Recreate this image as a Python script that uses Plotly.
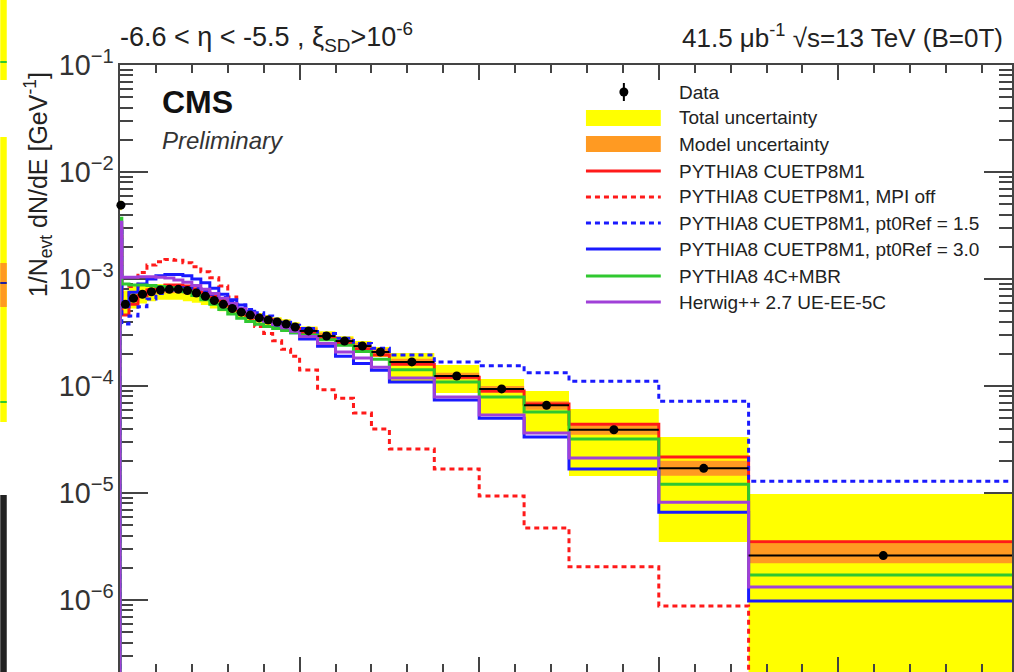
import plotly.graph_objects as go

# ---- binning (GeV) ----
edges = [0, 5, 25, 50, 75, 100, 125, 150, 175, 200, 225, 250, 275, 300, 325, 350,
         375, 400, 425, 450, 475, 500, 550, 600, 650, 700, 750, 875, 1000, 1125,
         1250, 1500, 1750, 2500]

# ---- measured spectrum ----
data = [4.9e-3, 5.8e-4, 6.6e-4, 7.2e-4, 7.6e-4, 7.9e-4, 8.0e-4, 8.0e-4, 7.8e-4,
        7.4e-4, 6.9e-4, 6.3e-4, 5.8e-4, 5.3e-4, 4.9e-4, 4.6e-4, 4.33e-4, 4.14e-4,
        3.96e-4, 3.79e-4, 3.56e-4, 3.27e-4, 2.93e-4, 2.63e-4, 2.36e-4, 2.08e-4,
        1.68e-4, 1.24e-4, 9.4e-5, 6.6e-5, 3.9e-5, 1.7e-5, 2.6e-6]

total_hi = [5.4e-3, 7.8e-4, 8.6e-4, 8.8e-4, 8.9e-4, 9.0e-4, 8.9e-4, 8.8e-4, 8.6e-4,
            8.2e-4, 7.6e-4, 6.9e-4, 6.4e-4, 5.8e-4, 5.4e-4, 5.1e-4, 4.8e-4, 4.6e-4,
            4.4e-4, 4.2e-4, 3.95e-4, 3.6e-4, 3.25e-4, 2.92e-4, 2.63e-4, 2.32e-4,
            2.03e-4, 1.57e-4, 1.16e-4, 8.97e-5, 6.1e-5, 3.33e-5, 9.8e-6]
total_lo = [4.4e-3, 4.6e-4, 5.3e-4, 5.9e-4, 6.2e-4, 6.4e-4, 6.4e-4, 6.4e-4, 6.2e-4,
            6.0e-4, 5.7e-4, 5.3e-4, 5.0e-4, 4.6e-4, 4.3e-4, 4.1e-4, 3.9e-4, 3.72e-4,
            3.56e-4, 3.41e-4, 3.2e-4, 2.94e-4, 2.64e-4, 2.37e-4, 2.12e-4, 1.87e-4,
            1.1e-4, 8.6e-5, 5.36e-5, 3.7e-5, 1.44e-5, 3.48e-6, 1e-8]

model_hi = [5.1e-3, 6.3e-4, 7.1e-4, 7.8e-4, 8.2e-4, 8.5e-4, 8.6e-4, 8.6e-4, 8.4e-4,
            8.0e-4, 7.4e-4, 6.8e-4, 6.25e-4, 5.7e-4, 5.3e-4, 4.95e-4, 4.66e-4, 4.45e-4,
            4.26e-4, 4.08e-4, 3.83e-4, 3.52e-4, 3.15e-4, 2.83e-4, 2.54e-4, 2.24e-4,
            1.8e-4, 1.33e-4, 1.0e-4, 7.2e-5, 4.3e-5, 2.0e-5, 3.4e-6]
model_lo = [4.7e-3, 5.35e-4, 6.1e-4, 6.65e-4, 7.0e-4, 7.3e-4, 7.4e-4, 7.4e-4, 7.2e-4,
            6.85e-4, 6.4e-4, 5.85e-4, 5.4e-4, 4.9e-4, 4.55e-4, 4.26e-4, 4.01e-4, 3.83e-4,
            3.67e-4, 3.51e-4, 3.3e-4, 3.03e-4, 2.71e-4, 2.44e-4, 2.19e-4, 1.93e-4,
            1.57e-4, 1.15e-4, 8.6e-5, 6.0e-5, 3.5e-5, 1.45e-5, 2.2e-6]

# ---- generator predictions ----
cuetp8m1 = [3.0e-3, 4.6e-4, 5.8e-4, 7.0e-4, 7.9e-4, 8.5e-4, 8.8e-4, 8.8e-4, 8.6e-4,
            8.1e-4, 7.5e-4, 6.9e-4, 6.3e-4, 5.7e-4, 5.2e-4, 4.8e-4, 4.45e-4, 4.15e-4,
            3.9e-4, 3.65e-4, 3.45e-4, 3.15e-4, 2.8e-4, 2.5e-4, 2.22e-4, 1.95e-4,
            1.6e-4, 1.21e-4, 9.0e-5, 6.8e-5, 4.4e-5, 2.17e-5, 3.5e-6]
mpi_off = [2.5e-3, 5.5e-4, 8.5e-4, 1.15e-3, 1.35e-3, 1.45e-3, 1.52e-3, 1.5e-3, 1.42e-3,
           1.3e-3, 1.17e-3, 1.03e-3, 8.6e-4, 6.8e-4, 5.2e-4, 4.3e-4, 3.6e-4, 3.1e-4,
           2.65e-4, 2.2e-4, 1.9e-4, 1.41e-4, 9.2e-5, 7.7e-5, 5.6e-5, 3.96e-5,
           2.58e-5, 1.68e-5, 9.4e-6, 4.7e-6, 2.04e-6, 8.8e-7, 1e-9]
pt0ref_15 = [2.9e-3, 3.8e-4, 4.5e-4, 5.5e-4, 6.5e-4, 7.3e-4, 7.9e-4, 8.2e-4, 8.3e-4,
             8.1e-4, 7.7e-4, 7.2e-4, 6.7e-4, 6.2e-4, 5.7e-4, 5.2e-4, 4.85e-4, 4.5e-4,
             4.2e-4, 3.95e-4, 3.7e-4, 3.45e-4, 3.1e-4, 2.8e-4, 2.5e-4, 2.25e-4,
             1.95e-4, 1.68e-4, 1.55e-4, 1.33e-4, 1.11e-4, 7.2e-5, 1.29e-5]
pt0ref_30 = [2.8e-3, 5.5e-4, 7.5e-4, 9.0e-4, 1.0e-3, 1.07e-3, 1.1e-3, 1.1e-3, 1.07e-3,
             1.0e-3, 9.2e-4, 8.2e-4, 7.2e-4, 6.4e-4, 5.7e-4, 5.0e-4, 4.5e-4, 4.05e-4,
             3.7e-4, 3.4e-4, 3.15e-4, 2.75e-4, 2.35e-4, 1.9e-4, 1.62e-4, 1.4e-4,
             1.09e-4, 7.4e-5, 5.0e-5, 3.34e-5, 1.68e-5, 6.6e-6, 9.8e-7]
p8_4c_mbr = [3.7e-3, 9.0e-4, 8.8e-4, 8.8e-4, 8.7e-4, 8.5e-4, 8.3e-4, 8.0e-4, 7.6e-4,
             7.0e-4, 6.4e-4, 5.8e-4, 5.2e-4, 4.7e-4, 4.3e-4, 4.0e-4, 3.77e-4, 3.6e-4,
             3.45e-4, 3.3e-4, 3.15e-4, 3.0e-4, 2.7e-4, 2.4e-4, 2.1e-4, 1.78e-4,
             1.42e-4, 1.09e-4, 7.9e-5, 5.7e-5, 3.2e-5, 1.21e-5, 1.71e-6]
herwig = [3.4e-3, 1.04e-3, 1.04e-3, 1.05e-3, 1.05e-3, 1.04e-3, 1.02e-3, 9.8e-4, 9.3e-4,
          8.7e-4, 8.0e-4, 7.3e-4, 6.6e-4, 5.9e-4, 5.3e-4, 4.8e-4, 4.4e-4, 4.05e-4,
          3.75e-4, 3.5e-4, 3.25e-4, 2.9e-4, 2.5e-4, 2.08e-4, 1.83e-4, 1.5e-4,
          1.19e-4, 7.9e-5, 5.36e-5, 3.63e-5, 2.12e-5, 8.2e-6, 1.32e-6]

legend_labels = ["Data", "Total uncertainty", "Model uncertainty",
                 "PYTHIA8 CUETP8M1", "PYTHIA8 CUETP8M1, MPI off",
                 "PYTHIA8 CUETP8M1, pt0Ref = 1.5", "PYTHIA8 CUETP8M1, pt0Ref = 3.0",
                 "PYTHIA8 4C+MBR", "Herwig++ 2.7 UE-EE-5C"]

# ---- styling ----
YELLOW = "#ffff00"
ORANGE = "#ff9a22"
RED = "#ff1a1a"
BLUE = "#1a1aff"
GREEN = "#30c830"
PURPLE = "#a040d8"
FRAME = "#444444"
FONT = "Liberation Sans, Arial, Helvetica, sans-serif"
DOTS = "5px,4px"
FLOOR = 1e-9

W, H = 1014, 672
L, T = 120, 65


def px(x):
    return (x - L) / (W - L)


def py(y):
    return (H - y) / (H - T)


centers = [(a + b) / 2 for a, b in zip(edges[:-1], edges[1:])]
half_w = [(b - a) / 2 for a, b in zip(edges[:-1], edges[1:])]


def step_xy(vals):
    xs = [edges[0]] + edges[:-1] + [edges[-1], edges[-1]]
    ys = [FLOOR] + list(vals) + [vals[-1], FLOOR]
    return xs, ys


def band_xy(lo, hi):
    xs, ys = [], []
    for i, h in enumerate(hi):
        xs += [edges[i], edges[i + 1]]
        ys += [h, h]
    for i in range(len(lo) - 1, -1, -1):
        xs += [edges[i + 1], edges[i]]
        ys += [lo[i], lo[i]]
    xs.append(xs[0])
    ys.append(ys[0])
    return xs, ys


fig = go.Figure()

for lo, hi, col in [(total_lo, total_hi, YELLOW), (model_lo, model_hi, ORANGE)]:
    bx, by = band_xy(lo, hi)
    fig.add_trace(go.Scatter(x=bx, y=by, mode="lines", fill="toself",
                             fillcolor=col, line=dict(width=0), hoverinfo="skip"))

models = [
    (cuetp8m1, RED, "solid"),
    (mpi_off, RED, DOTS),
    (pt0ref_15, BLUE, DOTS),
    (pt0ref_30, BLUE, "solid"),
    (p8_4c_mbr, GREEN, "solid"),
    (herwig, PURPLE, "solid"),
]
for vals, col, dash in models:
    sx, sy = step_xy(vals)
    fig.add_trace(go.Scatter(x=sx, y=sy, mode="lines", line_shape="hv",
                             line=dict(color=col, width=3, dash=dash)))

fig.add_trace(go.Scatter(
    x=centers, y=data, mode="markers", cliponaxis=False,
    marker=dict(color="black", size=9),
    error_x=dict(type="data", array=half_w, color="black", thickness=2, width=0),
))

# ---- legend drawn as shapes + text ----
rows = [92, 118, 144, 171, 197, 223, 249, 276, 302]
shapes = []
annotations = []
sx0, sx1 = 587, 662
shapes.append(dict(type="line", xref="paper", yref="paper",
                   x0=px(625), x1=px(625), y0=py(rows[0] - 9), y1=py(rows[0] + 9),
                   line=dict(color="black", width=2)))
shapes.append(dict(type="circle", xref="paper", yref="paper",
                   x0=px(620.5), x1=px(629.5), y0=py(rows[0] + 4.5), y1=py(rows[0] - 4.5),
                   fillcolor="black", line=dict(width=0)))
for r, col in [(rows[1], YELLOW), (rows[2], ORANGE)]:
    shapes.append(dict(type="rect", xref="paper", yref="paper",
                       x0=px(sx0), x1=px(sx1), y0=py(r + 8), y1=py(r - 8),
                       fillcolor=col, line=dict(width=0)))
for r, (vals, col, dash) in zip(rows[3:], models):
    shapes.append(dict(type="line", xref="paper", yref="paper",
                       x0=px(sx0), x1=px(sx1), y0=py(r), y1=py(r),
                       line=dict(color=col, width=3, dash=dash)))
for r, lab in zip(rows, legend_labels):
    annotations.append(dict(xref="paper", yref="paper", x=px(678), y=py(r),
                            xanchor="left", yanchor="middle", showarrow=False,
                            text=lab, font=dict(family=FONT, size=19, color="#222")))

# ---- header, experiment label and axis title ----
annotations += [
    dict(xref="paper", yref="paper", x=px(118), y=py(37), xanchor="left", yanchor="middle",
         showarrow=False, font=dict(family=FONT, size=27, color="#222"),
         text="-6.6 &lt; η &lt; -5.5 , ξ<sub>SD</sub>&gt;10<sup>-6</sup>"),
    dict(xref="paper", yref="paper", x=px(681), y=py(37), xanchor="left", yanchor="middle",
         showarrow=False, font=dict(family=FONT, size=26, color="#222"),
         text="41.5 μb<sup>-1</sup> √s=13 TeV (B=0T)"),
    dict(xref="paper", yref="paper", x=px(160), y=py(102), xanchor="left", yanchor="middle",
         showarrow=False, font=dict(family=FONT, size=32, color="#111"),
         text="<b>CMS</b>"),
    dict(xref="paper", yref="paper", x=px(160), y=py(140), xanchor="left", yanchor="middle",
         showarrow=False, font=dict(family=FONT, size=24, color="#333"),
         text="<i>Preliminary</i>"),
    dict(xref="paper", yref="paper", x=px(38), y=py(185), xanchor="center", yanchor="middle",
         showarrow=False, textangle=-90, font=dict(family=FONT, size=25, color="#222"),
         text="1/N<sub>evt</sub> dN/dE [GeV<sup>-1</sup>]"),
]

# ---- edge of the neighbouring panel on the left ----
for y0, y1, col in [(0, 80, YELLOW), (137, 422, YELLOW), (263, 307, ORANGE),
                    (495, 672, "#222222")]:
    shapes.append(dict(type="rect", xref="paper", yref="paper", layer="above",
                       x0=px(0), x1=px(6.5), y0=py(y1), y1=py(y0),
                       fillcolor=col, line=dict(width=0)))
for y, col in [(62, GREEN), (283, "#2020a0"), (402, GREEN)]:
    shapes.append(dict(type="line", xref="paper", yref="paper",
                       x0=px(0), x1=px(6.5), y0=py(y), y1=py(y),
                       line=dict(color=col, width=2)))

fig.update_layout(
    width=W, height=H,
    margin=dict(l=L, r=0, t=T, b=0),
    paper_bgcolor="white", plot_bgcolor="white",
    showlegend=False,
    shapes=shapes, annotations=annotations,
    xaxis=dict(range=[0, (W - L) / 0.36], showgrid=False, zeroline=False,
               tick0=0, dtick=500, ticks="inside", ticklen=15, tickwidth=1.5,
               tickcolor=FRAME, showticklabels=False, showline=True,
               linecolor=FRAME, linewidth=1.5, mirror="allticks",
               minor=dict(ticks="inside", ticklen=8, dtick=100, tickwidth=1.5,
                          tickcolor=FRAME, showgrid=False)),
    yaxis=dict(type="log", range=[-1 - (H - T) / 107.0, -1], showgrid=False,
               zeroline=False, dtick=1, exponentformat="power", showexponent="all",
               ticks="inside", ticklen=28, tickwidth=1.5, tickcolor=FRAME,
               showline=True, linecolor=FRAME, linewidth=1.5, mirror="allticks",
               layer="below traces",
               tickfont=dict(family=FONT, size=23, color="#333"),
               minor=dict(ticks="inside", ticklen=13, dtick="D1", tickwidth=1.5,
                          tickcolor=FRAME, showgrid=False)),
)

fig.write_html("out.html")
